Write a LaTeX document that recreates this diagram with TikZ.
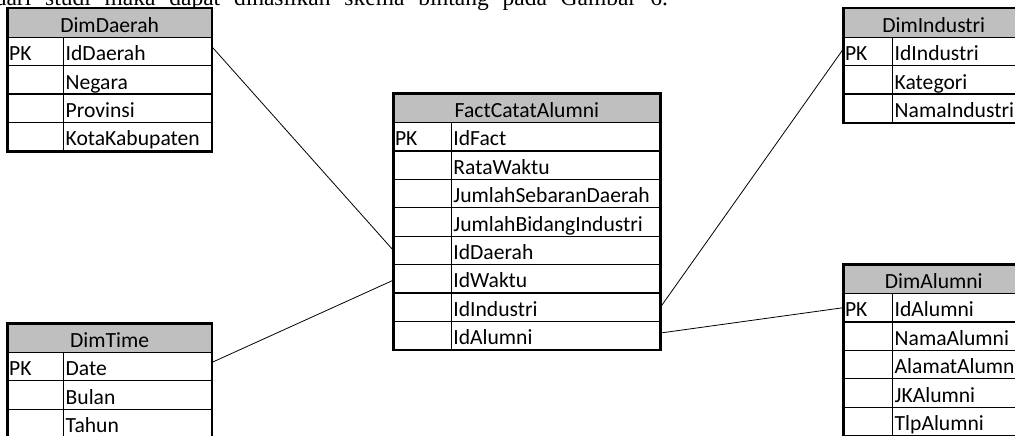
\documentclass[tikz,border=0pt]{standalone}
\usepackage{fontspec}
\setmainfont{Carlito}
\newfontfamily\bodyserif{Liberation Serif}
\definecolor{hdrgray}{RGB}{191,191,191}
\tikzset{
  cell/.style={draw=black, line width=1.2pt, minimum height=28.4pt, inner sep=0pt, anchor=north west},
  hdrcell/.style={cell, fill=hdrgray},
  celltext/.style={font=\fontsize{21.6}{24}\selectfont, inner sep=0pt, anchor=base west},
  hdrtext/.style={font=\fontsize{21.6}{24}\selectfont, inner sep=0pt, anchor=base},
  outerframe/.style={draw=black, line width=2.2pt},
  link/.style={draw=black, line width=0.8pt},
  captext/.style={font=\bodyserif\fontsize{23.5}{28}\selectfont, inner sep=0pt, anchor=base east},
}
% #1 name, #2 left, #3 divider, #4 right, #5 top, #6 title, #7 rows
\newcommand\ertab[7]{%
  \node[hdrcell, minimum width={#4-#2}] (#1-h) at (#2,#5) {};
  \node[hdrtext] (#1-ht) at ([yshift=5.2pt]#1-h.south) {#6};
  \foreach \txt [count=\i] in {#7} {
    \pgfmathsetmacro\yy{#5+28.4*\i}
    \node[cell, minimum width={#3-#2}] (#1-k\i) at (#2,\yy) {};
    \node[cell, minimum width={#4-#3}] (#1-\i) at (#3,\yy) {};
    \ifnum\i=1 \node[celltext] (#1-pk) at ([xshift=1.5pt,yshift=5.7pt]#1-k\i.south west) {PK};\fi
    \node[celltext] (#1-t\i) at ([xshift=2.5pt,yshift=5.7pt]#1-\i.south west) {\txt};
  }
}
\begin{document}
\begin{tikzpicture}[x=1pt,y=-1pt]
\clip (0,0) rectangle (1015,436);
\fill[white] (0,0) rectangle (1015,436);
\node[captext] (caption) at (668,6) {\spaceskip=13.8pt dari studi maka dapat dihasilkan skema bintang pada Gambar 6.};

\ertab{daerah}{7.5}{63}{210.5}{8.3}{DimDaerah}{IdDaerah,Negara,Provinsi,KotaKabupaten}
\ertab{fact}{393.3}{450.7}{659.3}{93.5}{FactCatatAlumni}{IdFact,RataWaktu,JumlahSebaranDaerah,JumlahBidangIndustri,IdDaerah,IdWaktu,IdIndustri,IdAlumni}
\ertab{industri}{843.3}{892}{1023}{8.3}{DimIndustri}{IdIndustri,Kategori,NamaIndustri}
\ertab{alumni}{843.3}{892}{1023}{264.5}{DimAlumni}{IdAlumni,NamaAlumni,AlamatAlumni,JKAlumni,TlpAlumni}
\ertab{time}{7.5}{63}{210.5}{323.3}{DimTime}{Date,Bulan,Tahun}

\draw[outerframe] (daerah-h.north west) rectangle (daerah-4.south east);
\draw[outerframe] (fact-h.north west) rectangle (fact-8.south east);
\draw[outerframe] (industri-h.north west) rectangle (industri-3.south east);
\draw[outerframe] (alumni-h.north west) rectangle (alumni-5.south east);
\draw[outerframe] (time-h.north west) rectangle (time-3.south east);

\draw[link] ([yshift=5pt]daerah-1.east) -- (fact-k5.west);
\draw[link] ([yshift=4pt]time-1.east) -- ([yshift=-1.5pt]fact-k6.west);
\draw[link] (fact-7.east) -- ([yshift=2.5pt]industri-k1.west);
\draw[link] ([yshift=2.5pt]fact-8.east) -- (alumni-k1.west);
\end{tikzpicture}
\end{document}
